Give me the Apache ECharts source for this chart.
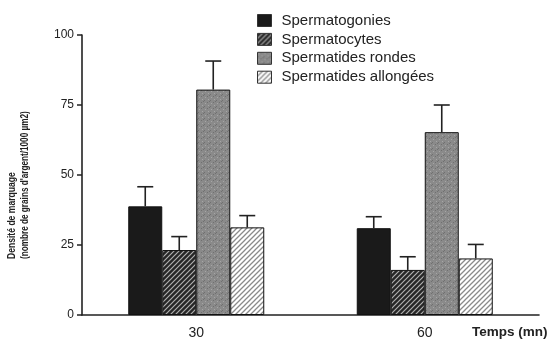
<!DOCTYPE html>
<html style="height: 100%">
<head>
	<meta charset="utf-8">
</head>
<body style="height: 100%; margin: 0; background: #fff">
<div id="container" style="width: 552px; height: 343px"></div>
<script type="text/javascript" src="https://cdn.jsdelivr.net/npm/echarts@6/dist/echarts.min.js"></script>
<script type="text/javascript">
    var categories = ['30', '60'];
    var seriesNames = ['Spermatogonies', 'Spermatocytes', 'Spermatides rondes', 'Spermatides allongées'];
    var spermatogonies = [38.8, 31];
    var spermatocytes = [23.2, 16.1];
    var rondes = [80.5, 65.3];
    var allongees = [31.3, 20.2];
    // top of the error bars
    var errSpermatogonies = [45.8, 35.1];
    var errSpermatocytes = [28, 20.8];
    var errRondes = [90.7, 75];
    var errAllongees = [35.5, 25.2];
    var yTicks = [0, 25, 50, 75, 100];
    var yTitle = ['Densité de marquage', '(nombre de grains d\'argent/1000 µm2)'];
    var xTitle = 'Temps (mn)';

    function hatch(bg, fg, size, lw) {
        var c = document.createElement('canvas');
        c.width = size; c.height = size;
        var ctx = c.getContext('2d');
        ctx.fillStyle = bg;
        ctx.fillRect(0, 0, size, size);
        ctx.strokeStyle = fg;
        ctx.lineWidth = lw;
        ctx.beginPath();
        ctx.moveTo(-1, size + 1); ctx.lineTo(size + 1, -1);
        ctx.moveTo(-1, 1); ctx.lineTo(1, -1);
        ctx.moveTo(size - 1, size + 1); ctx.lineTo(size + 1, size - 1);
        ctx.stroke();
        return c;
    }

    function stipple() {
        var c = document.createElement('canvas');
        c.width = 6; c.height = 6;
        var ctx = c.getContext('2d');
        ctx.fillStyle = '#8a8a8a';
        ctx.fillRect(0, 0, 6, 6);
        ctx.fillStyle = '#a6a6a6';
        ctx.fillRect(1, 1, 1, 1);
        ctx.fillRect(4, 3, 1, 1);
        ctx.fillStyle = '#707070';
        ctx.fillRect(3, 0, 1, 1);
        ctx.fillRect(0, 4, 1, 1);
        ctx.fillRect(5, 5, 1, 1);
        return c;
    }

    var fills = [
        '#1a1a1a',
        { image: hatch('#262626', '#b0b0b0', 5, 1.2), repeat: 'repeat' },
        { image: stipple(), repeat: 'repeat' },
        { image: hatch('#ffffff', '#8a8a8a', 5, 1.3), repeat: 'repeat' }
    ];

    var values = [spermatogonies, spermatocytes, rondes, allongees];
    var errs = [errSpermatogonies, errSpermatocytes, errRondes, errAllongees];
    var barW = 34;

    var dom = document.getElementById("container");
    var myChart = echarts.init(dom);

    var series = [];
    var i;
    for (i = 0; i < 4; i++) {
        series.push({
            name: seriesNames[i],
            type: 'bar',
            barWidth: barW,
            barGap: '0%',
            data: values[i],
            itemStyle: { color: fills[i], borderColor: '#111', borderWidth: 1 },
            z: 2
        });
    }

    var errData = [];
    for (i = 0; i < 4; i++) {
        for (var j = 0; j < categories.length; j++) {
            errData.push([j, values[i][j], errs[i][j], i]);
        }
    }

    series.push({
        type: 'custom',
        data: errData,
        z: 3,
        silent: true,
        renderItem: function (params, api) {
            var idx = api.value(3);
            var off = (idx - 1.5) * barW;
            var p0 = api.coord([api.value(0), api.value(1)]);
            var p1 = api.coord([api.value(0), api.value(2)]);
            var x = p0[0] + off;
            var style = { stroke: '#222', lineWidth: 1.6 };
            return {
                type: 'group',
                children: [
                    { type: 'line', shape: { x1: x, y1: p0[1], x2: x, y2: p1[1] }, style: style },
                    { type: 'line', shape: { x1: x - 8, y1: p1[1], x2: x + 8, y2: p1[1] }, style: style }
                ]
            };
        }
    });

    // rotated, condensed y-axis title (two lines, starting at the bottom)
    function titleLine(txt, x, size) {
        return {
            type: 'text',
            x: x,
            y: 259,
            rotation: Math.PI / 2,
            scaleX: 0.78,
            style: {
                text: txt,
                fontFamily: 'Liberation Sans',
                fontWeight: 'bold',
                fontSize: size,
                fill: '#222',
                textAlign: 'left',
                textVerticalAlign: 'middle',
                align: 'left',
                verticalAlign: 'middle'
            }
        };
    }

    var option = {
        backgroundColor: '#ffffff',
        animation: false,
        grid: { left: 82, right: 13, top: 35, bottom: 28 },
        graphic: [
            titleLine(yTitle[0], 12, 11),
            titleLine(yTitle[1], 25, 10.5)
        ],
        legend: {
            orient: 'vertical',
            left: 252,
            top: 8,
            itemWidth: 14,
            itemHeight: 12,
            itemGap: 3.9,
            icon: 'rect',
            data: seriesNames,
            textStyle: { fontFamily: 'Liberation Sans', fontSize: 15, lineHeight: 14, color: '#222', padding: [0, 0, 0, 5] },
            itemStyle: { borderColor: '#333', borderWidth: 1 }
        },
        xAxis: {
            type: 'category',
            data: categories,
            name: xTitle,
            nameLocation: 'end',
            nameGap: -67,
            nameTextStyle: {
                fontFamily: 'Liberation Sans', fontWeight: 'bold', fontSize: 13.5, color: '#222',
                verticalAlign: 'top', padding: [10, 0, 0, 0]
            },
            axisLine: { lineStyle: { color: '#222', width: 1.6 } },
            axisTick: { alignWithLabel: true, length: 5, lineStyle: { color: '#222', width: 1.5 } },
            axisLabel: { fontFamily: 'Liberation Sans', fontSize: 14, color: '#222', margin: 11 }
        },
        yAxis: {
            type: 'value',
            min: yTicks[0],
            max: yTicks[yTicks.length - 1],
            interval: 25,
            splitLine: { show: false },
            axisLine: { show: true, lineStyle: { color: '#222', width: 1.6 } },
            axisTick: { show: true, length: 5, lineStyle: { color: '#222', width: 1.5 } },
            axisLabel: { fontFamily: 'Liberation Sans', fontSize: 12, color: '#222', margin: 8 }
        },
        series: series
    };

    myChart.setOption(option, true);
</script>
</body>
</html>
